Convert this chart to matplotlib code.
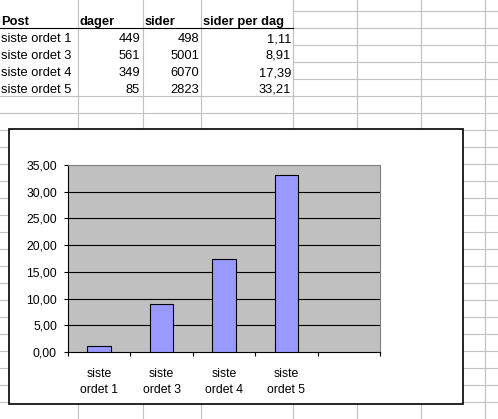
import matplotlib.pyplot as plt
from matplotlib.patches import Rectangle
from matplotlib.ticker import FixedLocator, NullFormatter

# table data (from the sheet)
header = ["Post", "dager", "sider", "sider per dag"]
posts = ["siste ordet 1", "siste ordet 3", "siste ordet 4", "siste ordet 5"]
dager = [449, 561, 349, 85]
sider = [498, 5001, 6070, 2823]
sider_per_dag = [1.11, 8.91, 17.39, 33.21]
cat_labels = ["siste\nordet 1", "siste\nordet 3", "siste\nordet 4", "siste\nordet 5"]
y_ticks = [0, 5, 10, 15, 20, 25, 30, 35]

W, H = 498, 419
fig = plt.figure(figsize=(W / 100, H / 100), dpi=100)
plt.rcParams["font.family"] = ["Liberation Sans", "DejaVu Sans"]

# -----------------------------
# spreadsheet background in pixel coords
# -----------------------------
bg = fig.add_axes([0, 0, 1, 1], zorder=0)
bg.set_xlim(0, W)
bg.set_ylim(H, 0)
bg.axis("off")

grid_c = "#c0c0c0"
col_edges = [0, 78, 143, 201, 293, 357, 421, 485]
row_h = 17
row0 = 11
for x in col_edges[1:]:
    bg.plot([x, x], [0, H], color=grid_c, lw=0.8)
y = row0
while y < H:
    x0 = 293 if y < 96 else 0
    bg.plot([x0, W], [y, y], color=grid_c, lw=0.8)
    y += row_h

# header underline
bg.plot([0, 293], [28, 28], color="black", lw=0.8)

fs_tab = 9.25

def fmt(v):
    return f"{v:.2f}".replace(".", ",")

# header row
bg.text(col_edges[0] + 1, 25, header[0], fontsize=fs_tab, fontweight="bold", va="baseline")
for j in range(1, 4):
    bg.text(col_edges[j] + 2, 25, header[j], fontsize=fs_tab, fontweight="bold", va="baseline")

for i in range(len(posts)):
    yb = 28 + row_h * (i + 1) - 3
    bg.text(col_edges[0] + 1, yb, posts[i], fontsize=fs_tab, va="baseline")
    bg.text(col_edges[2] - 3, yb, str(dager[i]), fontsize=fs_tab, va="baseline", ha="right")
    bg.text(col_edges[3] - 2, yb, str(sider[i]), fontsize=fs_tab, va="baseline", ha="right")
    bg.text(col_edges[4] - 2, yb, fmt(sider_per_dag[i]), fontsize=fs_tab, va="baseline", ha="right")

# chart frame
bg.add_patch(Rectangle((9, 129), 454, 275, facecolor="white", edgecolor="black", lw=1.2, zorder=5))

# -----------------------------
# chart
# -----------------------------
pl, pt, pr, pb = 68, 165, 380, 352
ax = fig.add_axes([pl / W, (H - pb) / H, (pr - pl) / W, (pb - pt) / H], zorder=2)
ax.set_facecolor("#c0c0c0")

n_slots = 5
xs = list(range(len(sider_per_dag)))
ax.bar(xs, sider_per_dag, width=0.38, color="#9999ff", edgecolor="black", linewidth=0.8, zorder=3)

ax.set_xlim(-0.5, n_slots - 0.5)
ax.set_ylim(0, 35)
ax.set_yticks(y_ticks)
ax.set_yticklabels([fmt(v) for v in y_ticks], fontsize=8.85)
for v in y_ticks[1:-1]:
    ax.axhline(v, color="black", lw=0.8, zorder=1)

# category boundaries as ticks, labels on minor ticks
ax.xaxis.set_major_locator(FixedLocator([k - 0.5 for k in range(n_slots + 1)]))
ax.xaxis.set_major_formatter(NullFormatter())
ax.xaxis.set_minor_locator(FixedLocator(xs))
ax.set_xticklabels(cat_labels, minor=True, fontsize=8.85, linespacing=1.4)
ax.tick_params(axis="x", which="major", length=3, width=0.8, direction="out")
ax.tick_params(axis="x", which="minor", length=0, pad=11.5)
ax.tick_params(axis="y", length=3, width=0.8, direction="out", pad=5)

for s in ["top", "right"]:
    ax.spines[s].set_color("#808080")
    ax.spines[s].set_linewidth(0.8)
for s in ["left", "bottom"]:
    ax.spines[s].set_color("black")
    ax.spines[s].set_linewidth(0.8)

fig.savefig("out.png", dpi=100)
